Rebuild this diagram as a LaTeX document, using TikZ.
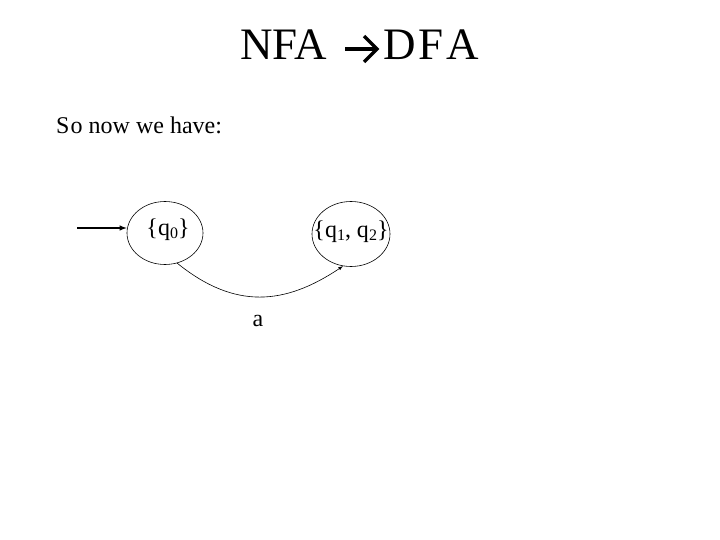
\documentclass[tikz,border=0pt]{standalone}
\usepackage{fontspec}
\usetikzlibrary{shapes.geometric,arrows.meta}
\setmainfont{Liberation Serif}
\newcommand{\lowsub}[1]{\raisebox{-0.28ex}{\fontsize{16}{18}\selectfont #1}}
\begin{document}
\begin{tikzpicture}[x=1pt,y=-1pt,
  state/.style={draw,ellipse,line width=0.6pt,minimum width=76pt,minimum height=63pt,inner sep=0pt},
  lbl/.style={font=\fontsize{24}{28}\selectfont},
  ttl/.style={font=\fontsize{45}{50}\selectfont,inner sep=0pt},
  tarrow/.style={draw=black,line width=3.4pt,line cap=butt,line join=miter},
  >=latex]
\useasboundingbox (0,0) rectangle (720,540);
\node[ttl,anchor=base west] (nfa) at (240,60) {NFA};
\node[ttl,anchor=base west] (dfa) at (383,60) {D\hspace{3pt}F\hspace{3pt}A};
\coordinate (ta) at (345,49);
\coordinate (tb) at (377,49);
\coordinate (tu) at (364,36);
\coordinate (tl) at (364,62);
\path[tarrow] (ta) -- (tb);
\path[tarrow] (tu) -- (tb) -- (tl);
\node[font=\fontsize{24}{28}\selectfont,anchor=base west,inner sep=0pt] (intro) at (56,134) {S\hspace{1.2pt}o now we have:};
\node[state] (q0) at (165,233) {};
\node[lbl] (q0t) at (168,230) {\{q\lowsub{0}\}};
\node[state,minimum width=78pt,minimum height=65pt] (q12) at (351,234) {};
\node[lbl] (q12t) at (351,232) {\{q\lowsub{1}, q\lowsub{2}\}};
\coordinate (start) at (77,228);
\draw[->,line width=1.4pt] (start) -- (q0.west |- start);
\draw[->,line width=0.6pt] (q0.-68) .. controls (235,310) and (285,305) .. (q12.-104);
\node[lbl] (a) at (258,321) {a};
\end{tikzpicture}
\end{document}
